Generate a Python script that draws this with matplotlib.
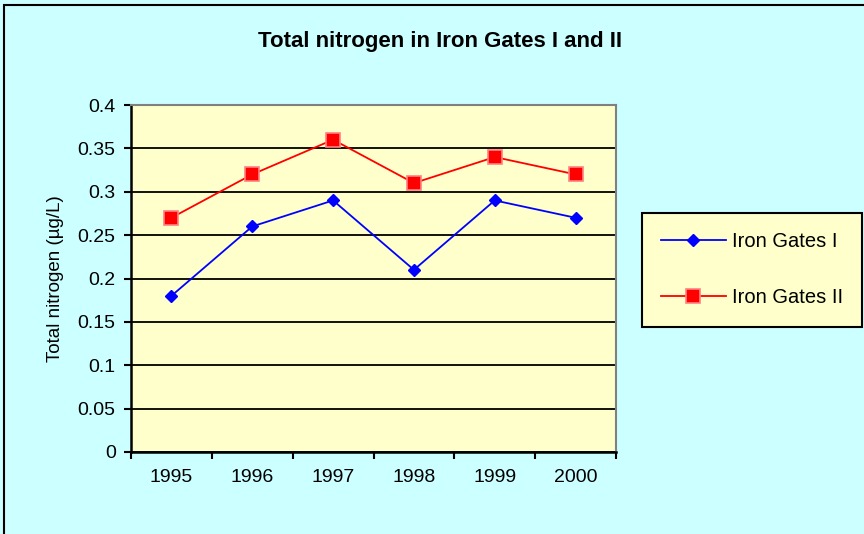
import numpy as np
import matplotlib.pyplot as plt
from matplotlib.patches import Rectangle

years = ["1995", "1996", "1997", "1998", "1999", "2000"]
iron_gates_1 = [0.18, 0.26, 0.29, 0.21, 0.29, 0.27]
iron_gates_2 = [0.27, 0.32, 0.36, 0.31, 0.34, 0.32]
y_ticks = [0, 0.05, 0.1, 0.15, 0.2, 0.25, 0.3, 0.35, 0.4]
y_labels = ["0", "0.05", "0.1", "0.15", "0.2", "0.25", "0.3", "0.35", "0.4"]

plt.rcParams["font.family"] = ["Liberation Sans", "DejaVu Sans"]

fig = plt.figure(figsize=(8.64, 5.34), dpi=100)
fig.patch.set_facecolor("#CCFFFF")

# outer chart border (runs off the right and bottom edges)
fig.patches.append(Rectangle((4 / 864, -0.1), 1.2, 1.1 - 5 / 534, transform=fig.transFigure,
                             fill=False, edgecolor="black", linewidth=1.5))

ax = fig.add_axes([131 / 864, 1 - 452 / 534, 485 / 864, 347 / 534])
ax.set_facecolor("#FFFFCC")

x = np.arange(len(years))
ax.plot(x, iron_gates_1, color="blue", linewidth=1.3, marker="D", markersize=6.5,
        markerfacecolor="blue", markeredgecolor="blue", label="Iron Gates I")
ax.plot(x, iron_gates_2, color="red", linewidth=1.3, marker="s", markersize=10,
        markerfacecolor="red", markeredgecolor="#FF8080", markeredgewidth=1.2, label="Iron Gates II")

ax.set_xlim(-0.5, len(years) - 0.5)
ax.set_ylim(0, 0.4)
ax.set_yticks(y_ticks)
ax.set_yticklabels(y_labels, fontsize=14)
ax.yaxis.grid(True, color="black", linewidth=1.3)
ax.set_axisbelow(True)

ax.set_xticks(x)
ax.set_xticklabels(years, fontsize=14)
ax.set_xticks(np.arange(-0.5, len(years)), minor=True)
ax.tick_params(axis="x", which="major", length=0, pad=12)
ax.tick_params(axis="x", which="minor", length=5, width=1.5, direction="out")
ax.tick_params(axis="y", length=5, width=1.5, direction="out", pad=6)

for side in ["top", "right"]:
    ax.spines[side].set_color("#808080")
    ax.spines[side].set_linewidth(1.5)
for side in ["left", "bottom"]:
    ax.spines[side].set_color("black")
    ax.spines[side].set_linewidth(1.8)

ax.set_ylabel("Total nitrogen (µg/L)", fontsize=13.5)
ax.yaxis.set_label_coords(-0.138, 0.5)

fig.text(440 / 864, 1 - 42 / 534, "Total nitrogen in Iron Gates I and II",
         ha="center", va="center", fontsize=16, fontweight="bold")

leg = fig.legend(loc="upper left", bbox_to_anchor=(642 / 864, 1 - 213 / 534),
                 bbox_transform=fig.transFigure, fontsize=14.5, frameon=True,
                 fancybox=False, borderpad=0.95, labelspacing=1.85, handlelength=3.2,
                 handletextpad=0.3, borderaxespad=0)
leg.get_frame().set_facecolor("#FFFFCC")
leg.get_frame().set_edgecolor("black")
leg.get_frame().set_linewidth(1.5)
leg.get_frame().set_alpha(1)

fig.savefig("out.png", dpi=100, facecolor=fig.get_facecolor())
